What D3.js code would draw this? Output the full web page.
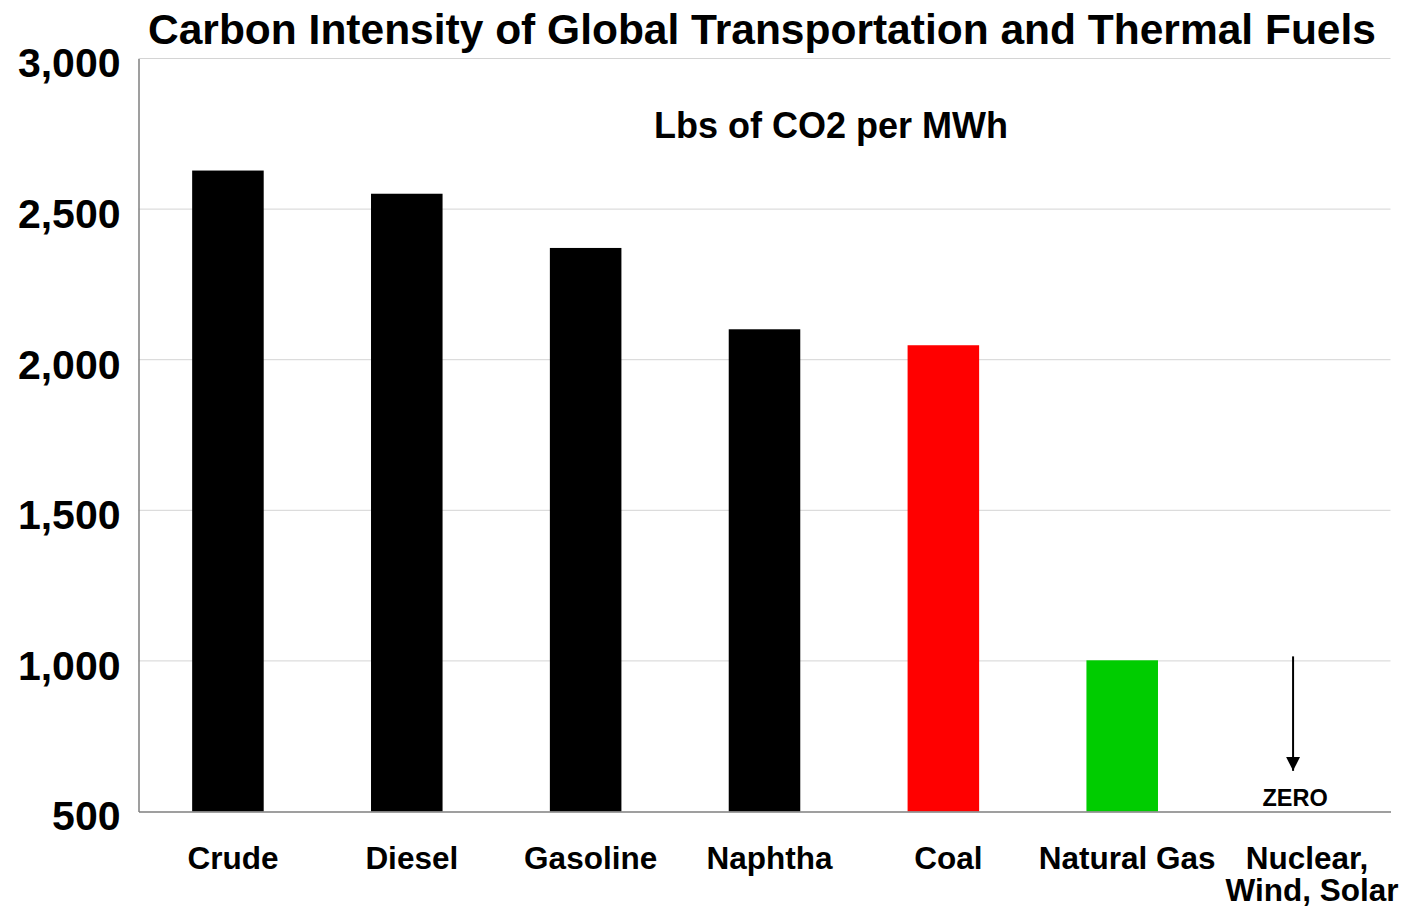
<!DOCTYPE html>
<html>
<head>
<meta charset="utf-8">
<script src="https://cdn.jsdelivr.net/npm/d3@7"></script>
<style>
  html, body { margin: 0; padding: 0; background: #fff; }
  svg { display: block; font-family: "Liberation Sans", Arial, sans-serif; font-weight: bold; }
</style>
</head>
<body>
<svg id="chart" width="1401" height="911"></svg>
<script>
const categories = ["Crude", "Diesel", "Gasoline", "Naphtha", "Coal", "Natural Gas", "Nuclear,\nWind, Solar"];
const values = [2628, 2551, 2371, 2101, 2048, 1002, 0];
const barColors = ["#000000", "#000000", "#000000", "#000000", "#ff0000", "#00cc00", "#000000"];
const yTicks = [500, 1000, 1500, 2000, 2500, 3000];
const arrowRange = [1015, 635];
const title = "Carbon Intensity of Global Transportation and Thermal Fuels";
const subtitle = "Lbs of CO2 per MWh";
const zeroLabel = "ZERO";

const svg = d3.select("#chart");
const mLeft = 138.5, mRight = 1390.5, mTop = 58.5, mBottom = 811.5;

const x = d3.scaleBand().domain(categories).range([mLeft, mRight]).paddingInner(0.6).paddingOuter(0.3);
const y = d3.scaleLinear().domain([500, 3000]).range([mBottom, mTop]);

// gridlines
svg.append("g").selectAll("line").data(yTicks.filter(d => d > 500)).join("line")
  .attr("x1", mLeft).attr("x2", mRight)
  .attr("y1", d => y(d)).attr("y2", d => y(d))
  .attr("stroke", "#d4d4d4").attr("stroke-width", 1);

// bars
svg.append("g").selectAll("rect").data(categories.map((c, i) => ({c, v: values[i], col: barColors[i]})).filter(d => d.v > 500))
  .join("rect")
  .attr("x", d => x(d.c))
  .attr("width", x.bandwidth())
  .attr("y", d => y(d.v))
  .attr("height", d => y(500) - y(d.v))
  .attr("fill", d => d.col);

// axes
const yAxis = d3.axisLeft(y).tickValues(yTicks).tickFormat(d3.format(",")).tickSize(0).tickPadding(18);
const gy = svg.append("g").attr("transform", `translate(${mLeft},0)`).call(yAxis);
gy.select(".domain").attr("stroke", "#7f7f7f").attr("stroke-width", 1.5);
gy.selectAll("text").attr("font-size", 41).attr("font-weight", "bold").attr("fill", "#000")
  .attr("font-family", "Liberation Sans, Arial, sans-serif").attr("dy", "0.45em");

const xAxis = d3.axisBottom(x).tickSize(0).tickFormat("");
const gx = svg.append("g").attr("transform", `translate(0,${mBottom})`).call(xAxis);
gx.select(".domain").attr("stroke", "#7f7f7f").attr("stroke-width", 1.5);

// x labels (one text element per line)
const labelLines = [];
categories.forEach(c => {
  const lines = c.split("\n");
  lines.forEach((ln, i) => labelLines.push({c, ln, i, multi: lines.length > 1}));
});
svg.append("g").selectAll("text").data(labelLines).join("text")
  .attr("text-anchor", "middle")
  .attr("font-size", 31.5)
  .attr("fill", "#000")
  .attr("x", d => x(d.c) + x.bandwidth() / 2 + (d.multi ? (d.i === 0 ? 6 : 11) : 5))
  .attr("y", d => 869 + d.i * 32)
  .text(d => d.ln);

// titles
svg.append("text").attr("x", 762).attr("y", 44).attr("text-anchor", "middle")
  .attr("font-size", 42.5).attr("fill", "#000").text(title);
svg.append("text").attr("x", 831).attr("y", 138).attr("text-anchor", "middle")
  .attr("font-size", 36).attr("fill", "#000").text(subtitle);

// arrow for zero category
const zc = categories[6];
const ax = x(zc) + x.bandwidth() / 2 - 8;
svg.append("defs").append("marker").attr("id", "ah")
  .attr("viewBox", "0 0 10 10").attr("refX", 10).attr("refY", 5)
  .attr("markerWidth", 14).attr("markerHeight", 14).attr("markerUnits", "userSpaceOnUse")
  .attr("orient", "auto")
  .append("path").attr("d", "M0,0 L10,5 L0,10 Z").attr("fill", "#000");
svg.append("line").attr("x1", ax).attr("x2", ax)
  .attr("y1", y(arrowRange[0])).attr("y2", y(arrowRange[1]))
  .attr("stroke", "#000").attr("stroke-width", 2).attr("marker-end", "url(#ah)");
svg.append("text").attr("x", ax + 2).attr("y", 806).attr("text-anchor", "middle")
  .attr("font-size", 23.5).attr("fill", "#000").text(zeroLabel);
</script>
</body>
</html>
